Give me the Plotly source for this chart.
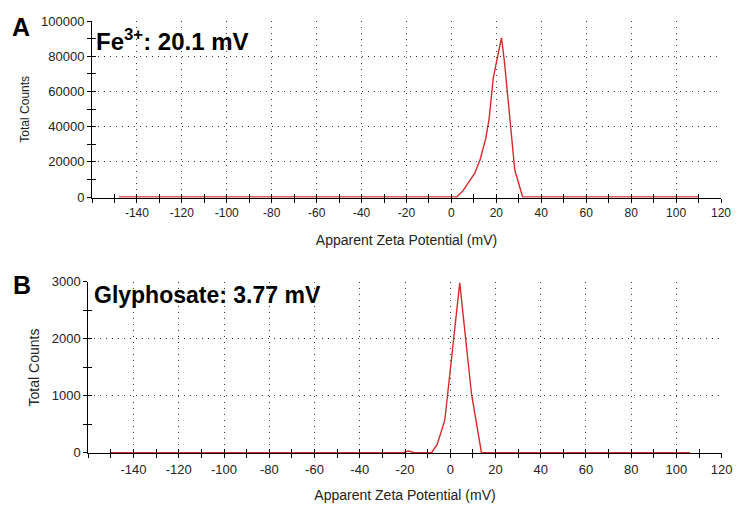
import plotly.graph_objects as go

# ---------------- data ----------------
# Panel A: Fe3+
a_zeta = [-148, 2.3, 5.2, 10.4, 12.7, 15.3, 16.8, 18.6, 20.1, 22.3, 23.6, 28.2, 31.7, 110]
a_counts = [0, 0, 3600, 13500, 21000, 33300, 44700, 67400, 76900, 90500, 76900, 15300, 0, 0]
# Panel B: Glyphosate
b_zeta = [-150, -21, -18.5, -16, -8.3, -5.8, -2.4, 4.2, 9.4, 13.8, 106]
b_counts = [0, 0, 30, 0, 0, 140, 570, 2980, 1030, 0, 0]

x_tickvals = list(range(-140, 121, 20))
x_ticktext = [str(v) for v in x_tickvals]
a_tickvals = list(range(0, 100001, 20000))
a_ticktext = [str(v) for v in a_tickvals]
b_tickvals = [0, 1000, 2000, 3000]
b_ticktext = [str(v) for v in b_tickvals]

x_title = "Apparent Zeta Potential (mV)"
y_title = "Total Counts"
label_a = "<b>A</b>"
label_b = "<b>B</b>"
note_a = "<b>Fe<sup>3+</sup>: 20.1 mV</b>"
note_b = "<b>Glyphosate: 3.77 mV</b>"

# ---------------- layout helpers ----------------
W, H = 737, 507
FONT = "Liberation Sans, Arial, sans-serif"
RED = "#d42a2a"
GRID = "#3a3a3a"


def px(x):
    return x / W


def py(y):
    return 1 - y / H


fig = go.Figure()

fig.add_trace(go.Scatter(x=a_zeta, y=a_counts, mode="lines", xaxis="x", yaxis="y",
                         line=dict(color=RED, width=1.4), hoverinfo="skip", showlegend=False))
fig.add_trace(go.Scatter(x=b_zeta, y=b_counts, mode="lines", xaxis="x2", yaxis="y2",
                         line=dict(color=RED, width=1.4), hoverinfo="skip", showlegend=False))
# invisible traces that carry the overlay (inside-tick) axes
fig.add_trace(go.Scatter(x=a_zeta, y=a_counts, mode="lines", xaxis="x3", yaxis="y3",
                         line=dict(width=0), hoverinfo="skip", showlegend=False))
fig.add_trace(go.Scatter(x=b_zeta, y=b_counts, mode="lines", xaxis="x4", yaxis="y4",
                         line=dict(width=0), hoverinfo="skip", showlegend=False))

XR = [-160, 120]


def xaxis_main(domain, anchor, fsize, tsize, standoff):
    return dict(
        domain=domain, anchor=anchor, range=XR, automargin=False,
        tickmode="array", tickvals=x_tickvals, ticktext=x_ticktext,
        ticks="outside", ticklen=4, tickcolor="black", tickwidth=1,
        minor=dict(tickmode="linear", tick0=0, dtick=10, ticks="outside", ticklen=4,
                   tickcolor="black", showgrid=False),
        showline=True, linecolor="black", linewidth=1,
        showgrid=True, gridcolor=GRID, griddash="1px,5px", gridwidth=1,
        zeroline=False, layer="below traces",
        tickfont=dict(family=FONT, size=fsize, color="#222"),
        title=dict(text=x_title, font=dict(family=FONT, size=tsize, color="#222"),
                   standoff=standoff),
        fixedrange=True,
    )


def xaxis_overlay(over, anchor, domain):
    return dict(
        overlaying=over, anchor=anchor, domain=domain, range=XR, automargin=False,
        tickmode="linear", tick0=0, dtick=10,
        ticks="inside", ticklen=4, tickcolor="black", tickwidth=1,
        showticklabels=False, showgrid=False, zeroline=False, showline=False,
    )


def yaxis_main(domain, anchor, yr, tv, tt, mdt, tsize):
    return dict(
        domain=domain, anchor=anchor, range=yr, automargin=False,
        tickmode="array", tickvals=tv, ticktext=tt,
        ticks="outside", ticklen=4, tickcolor="black",
        minor=dict(tickmode="linear", tick0=0, dtick=mdt, ticks="outside", ticklen=4,
                   tickcolor="black", showgrid=False),
        showline=True, linecolor="black", linewidth=1,
        showgrid=True, gridcolor=GRID, griddash="1px,5px", gridwidth=1,
        zeroline=False, layer="below traces",
        tickfont=dict(family=FONT, size=13, color="#222"),
        title=dict(text=y_title, font=dict(family=FONT, size=tsize, color="#222"), standoff=8),
    )


def yaxis_overlay(over, anchor, yr, mdt):
    return dict(overlaying=over, anchor=anchor, range=yr, automargin=False,
                tickmode="linear", tick0=0, dtick=mdt, ticks="inside", ticklen=4,
                tickcolor="black", showticklabels=False, showgrid=False,
                zeroline=False, showline=False)


a_xdom = [px(92), px(721)]
b_xdom = [px(88.3), px(721.7)]
a_ydom = [py(197.6), py(21)]
b_ydom = [py(453.3), py(281.7)]
a_yr = [-340, 100000]
b_yr = [-10.5, 3000]

layout = dict(
    width=W, height=H,
    margin=dict(l=0, r=0, t=0, b=0, pad=0, autoexpand=False),
    paper_bgcolor="white", plot_bgcolor="white",
    showlegend=False,
    xaxis=xaxis_main(a_xdom, "y", 12, 14, 16),
    xaxis2=xaxis_main(b_xdom, "y2", 13, 14, 14),
    xaxis3=xaxis_overlay("x", "y", a_xdom),
    xaxis4=xaxis_overlay("x2", "y2", b_xdom),
    yaxis=yaxis_main(a_ydom, "x", a_yr, a_tickvals, a_ticktext, 10000, 12),
    yaxis2=yaxis_main(b_ydom, "x2", b_yr, b_tickvals, b_ticktext, 500, 14),
    yaxis3=yaxis_overlay("y", "x3", a_yr, 10000),
    yaxis4=yaxis_overlay("y2", "x4", b_yr, 500),
    annotations=[
        dict(text=label_a, xref="paper", yref="paper", x=px(10), y=py(26.5),
             xanchor="left", yanchor="middle", showarrow=False,
             font=dict(family=FONT, size=25, color="black")),
        dict(text=note_a, xref="paper", yref="paper", x=px(94), y=py(40),
             xanchor="left", yanchor="middle", showarrow=False,
             font=dict(family=FONT, size=24, color="black")),
        dict(text=label_b, xref="paper", yref="paper", x=px(11), y=py(285),
             xanchor="left", yanchor="middle", showarrow=False,
             font=dict(family=FONT, size=25, color="black")),
        dict(text=note_b, xref="paper", yref="paper", x=px(92), y=py(295),
             xanchor="left", yanchor="middle", showarrow=False,
             font=dict(family=FONT, size=23, color="black")),
    ],
)

fig.update_layout(**layout)
fig.write_html(
    "out.html",
    config={"displayModeBar": False},
    post_script="document.body.style.margin='0';document.body.style.overflow='hidden';",
)
